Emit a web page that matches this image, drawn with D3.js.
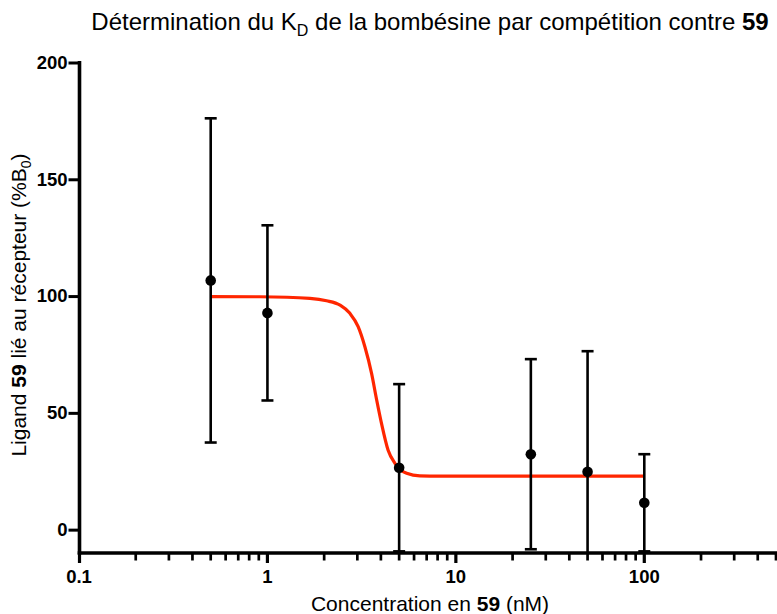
<!DOCTYPE html>
<html><head><meta charset="utf-8">
<script src="https://cdn.jsdelivr.net/npm/d3@7"></script>
<style>body{margin:0;background:#fff} svg{display:block;font-family:"Liberation Sans",Arial,sans-serif}</style>
</head><body><svg id="c" width="777" height="614"></svg>
<script>
const concentrations = [0.5, 1, 5, 25, 50, 100];
const bindingMean = [106.7, 92.8, 26.5, 32.3, 24.8, 11.5];
const bindingErr = [69.4, 37.5, 35.8, 40.7, 51.6, 20.8];
const fitX = [0.5, 0.91, 1.68, 2.06, 2.43, 2.74, 3.03, 3.29, 3.57, 3.80, 4.03, 4.37, 4.75, 5.05, 5.48, 6.44, 8.23, 20, 100];
const fitY = [99.8, 99.7, 99.0, 98.0, 96.1, 92.6, 86.9, 78.3, 66.9, 55.5, 45.5, 34.0, 28.4, 25.8, 24.1, 23.0, 22.9, 22.9, 22.9];
const xTickValues = [0.1, 1, 10, 100];
const xTickLabels = ["0.1", "1", "10", "100"];
const yTickValues = [0, 50, 100, 150, 200];
const yTickLabels = ["0", "50", "100", "150", "200"];

const svg = d3.select("#c");
const x = d3.scaleLog().domain([0.1, 500]).range([79, 776]);
const y = d3.scaleLinear().domain([-10, 200]).range([553, 62.5]);

svg.append("defs").append("clipPath").attr("id", "plot")
  .append("rect").attr("x", 79).attr("y", 40).attr("width", 700).attr("height", 513);

const g = svg.append("g").attr("clip-path", "url(#plot)");

// fit curve
const fit = fitX.map((d, i) => ({x: d, y: fitY[i]}));
g.append("path").datum(fit)
  .attr("fill", "none").attr("stroke", "#FF2600").attr("stroke-width", 3.2)
  .attr("d", d3.line().x(d => x(d.x)).y(d => y(d.y)).curve(d3.curveMonotoneX));

// error bars
const pts = concentrations.map((c, i) => ({c, m: bindingMean[i], e: bindingErr[i]}));
const eb = g.selectAll(".eb").data(pts).enter().append("g").attr("stroke", "#000").attr("stroke-width", 2.6);
eb.append("line").attr("x1", d => x(d.c)).attr("x2", d => x(d.c))
  .attr("y1", d => y(d.m + d.e)).attr("y2", d => y(d.m - d.e));
eb.append("line").attr("x1", d => x(d.c) - 6).attr("x2", d => x(d.c) + 6)
  .attr("y1", d => y(d.m + d.e)).attr("y2", d => y(d.m + d.e));
eb.append("line").attr("x1", d => x(d.c) - 6).attr("x2", d => x(d.c) + 6)
  .attr("y1", d => y(d.m - d.e)).attr("y2", d => y(d.m - d.e));
g.selectAll(".pt").data(pts).enter().append("circle")
  .attr("cx", d => x(d.c)).attr("cy", d => y(d.m)).attr("r", 5.3).attr("fill", "#000");

// y axis
const yAxis = d3.axisLeft(y).tickValues(yTickValues).tickFormat((d, i) => yTickLabels[i]).tickSize(11).tickPadding(1);
const ya = svg.append("g").attr("transform", "translate(79.5,0)").call(yAxis);
ya.select(".domain").attr("d", `M0,${y(200) - 1.5}V${y(-10) + 1.5}`).attr("stroke-width", 3.6).attr("stroke", "#000");
ya.selectAll(".tick line").attr("stroke-width", 3).attr("stroke", "#000");
ya.selectAll(".tick text").attr("font-size", 18.5).attr("font-weight", "bold").attr("fill", "#000")
  .attr("font-family", "Liberation Sans, Arial, sans-serif");

// x axis
const xa = svg.append("g").attr("transform", `translate(0,${y(-10)})`);
xa.append("line").attr("x1", 77.7).attr("x2", 777).attr("y1", 0).attr("y2", 0).attr("stroke", "#000").attr("stroke-width", 3.4);
const minor = x.ticks().filter(t => !xTickValues.some(v => Math.abs(v - t) < 1e-9));
xa.selectAll(".mn").data(minor).enter().append("line")
  .attr("x1", d => x(d)).attr("x2", d => x(d)).attr("y1", 0).attr("y2", 7.5)
  .attr("stroke", "#000").attr("stroke-width", 2.7);
xa.selectAll(".mj").data(xTickValues).enter().append("line")
  .attr("x1", d => x(d) + (d === 0.1 ? 0.5 : 0)).attr("x2", d => x(d) + (d === 0.1 ? 0.5 : 0)).attr("y1", 0).attr("y2", 10)
  .attr("stroke", "#000").attr("stroke-width", 3.2);
xa.selectAll(".lb").data(xTickValues).enter().append("text")
  .attr("x", d => x(d)).attr("y", 29.5).attr("text-anchor", "middle")
  .attr("font-size", 18.5).attr("font-weight", "bold").text((d, i) => xTickLabels[i]);

// titles
const t = svg.append("text").attr("x", 430).attr("y", 30).attr("text-anchor", "middle").attr("font-size", 24);
t.append("tspan").text("Détermination du K");
t.append("tspan").attr("font-size", 16).attr("dy", 6).text("D");
t.append("tspan").attr("dy", -6).text(" de la bombésine par compétition contre ");
t.append("tspan").attr("font-weight", "bold").text("59");

const xl = svg.append("text").attr("x", 430).attr("y", 611).attr("text-anchor", "middle").attr("font-size", 21);
xl.append("tspan").text("Concentration en ");
xl.append("tspan").attr("font-weight", "bold").text("59");
xl.append("tspan").text(" (nM)");

const yl = svg.append("text").attr("transform", "translate(26,305) rotate(-90)").attr("text-anchor", "middle").attr("font-size", 21);
yl.append("tspan").text("Ligand ");
yl.append("tspan").attr("font-weight", "bold").text("59");
yl.append("tspan").text(" lié au récepteur (%B");
yl.append("tspan").attr("font-size", 14).attr("dy", 5).text("0");
yl.append("tspan").attr("dy", -5).text(")");
</script></body></html>
